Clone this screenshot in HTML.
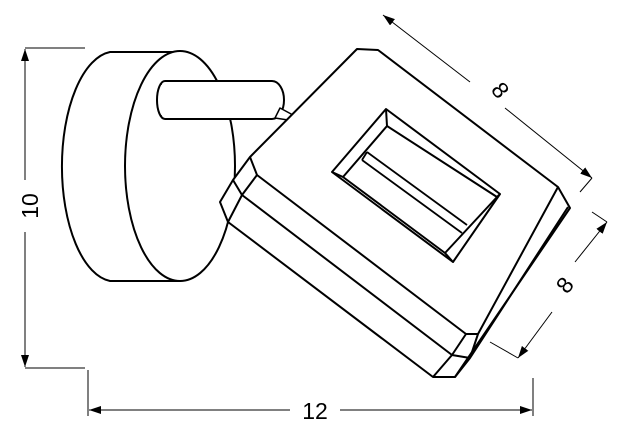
<!DOCTYPE html>
<html><head><style>body{margin:0;background:#fff}svg{display:block}</style></head><body>
<svg width="622" height="438" viewBox="0 0 622 438" xmlns="http://www.w3.org/2000/svg">
<defs><marker id="a" markerWidth="12" markerHeight="8" refX="12" refY="4" orient="auto" markerUnits="userSpaceOnUse"><path d="M0,0 L12,4 L0,8 z" fill="#000"/></marker></defs>
<g fill="none" stroke="#000" stroke-width="1">
<line x1="25" y1="48" x2="85" y2="48"/>
<line x1="25" y1="368" x2="85" y2="368"/>
<line x1="25" y1="180" x2="25" y2="49" marker-end="url(#a)"/>
<line x1="25" y1="232" x2="25" y2="367" marker-end="url(#a)"/>
<line x1="88" y1="370" x2="88" y2="416"/>
<line x1="533" y1="378" x2="533" y2="416"/>
<line x1="290" y1="410" x2="89" y2="410" marker-end="url(#a)"/>
<line x1="340" y1="410" x2="532" y2="410" marker-end="url(#a)"/>
<line x1="470" y1="82" x2="383" y2="15" marker-end="url(#a)"/>
<line x1="505" y1="108" x2="592" y2="178" marker-end="url(#a)"/>
<line x1="592" y1="178" x2="580" y2="192"/>
<line x1="575" y1="262" x2="607" y2="222" marker-end="url(#a)"/>
<line x1="552" y1="312" x2="518" y2="358" marker-end="url(#a)"/>
<line x1="607" y1="222" x2="592" y2="212"/>
<line x1="518" y1="358" x2="490" y2="342"/>
</g>
<g font-family="Liberation Sans, sans-serif" font-size="23" fill="#000" text-anchor="middle">
<text x="0" y="0" transform="translate(38,206) rotate(-90)">10</text>
<text x="315" y="419">12</text>
<text x="0" y="0" transform="translate(494,95) rotate(52)">8</text>
<text x="0" y="0" transform="translate(571,290) rotate(-52)">8</text>
</g>
<g fill="#fff" stroke="#000" stroke-width="2" stroke-linejoin="round">
<path d="M110,52 A53,115 0 0 0 110,281 L180,281 A55,115 0 0 0 180,52 Z"/>
<ellipse cx="180" cy="166" rx="55" ry="115"/>
<path d="M165,81 L272,81 A12,19 0 0 1 272,119 L165,119 A8,19 0 0 1 165,81 Z"/>
<path d="M162,84 A5,16 0 0 0 162,116" fill="none" stroke-width="1.2"/>
<path d="M280,108 L293,115 L288,120 L275,118 Z" stroke-width="1.5"/>
<path d="M250,157 L357,49 L378,50 L558,187 L570,208 L455,377 L433,377 L228,222 L220,202 L233,180 Z"/>
<path d="M250,157 L257,175 L466,334 L478,334 L558,187 M257,175 L242,195 L228,222 M233,180 L242,195 L452,355 L470,358 L568,207 M478,334 L470,358 L455,377 M466,334 L452,355 L433,377" fill="none"/>
<path d="M386,109 L500,194 L453,262 L332,172 Z"/>
<path d="M387,126 L497,197 M500,194 L497,197 L445,253 L453,262 M386,109 L387,126 L343,177 L332,172 M343,177 L445,253" fill="none"/>
<path d="M367,152 L467,225 M362,160 L462,233 M367,152 L362,160" fill="none" stroke-width="1.8"/>
</g>
</svg>
</body></html>
